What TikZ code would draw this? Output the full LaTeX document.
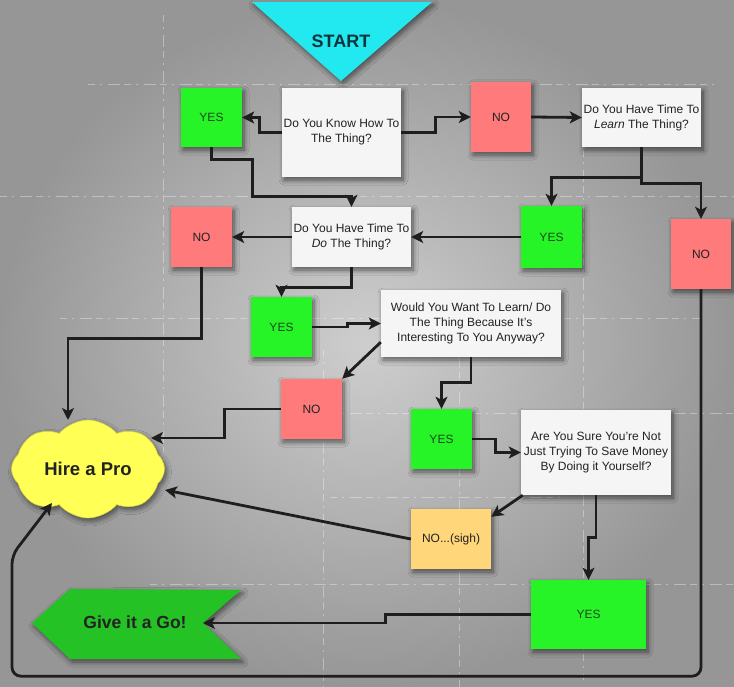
\documentclass[tikz,border=0pt]{standalone}
\usepackage{fontspec}
\setmainfont{Liberation Sans}
\usetikzlibrary{arrows.meta,shapes.symbols,shadows.blur,calc}
\definecolor{bgin}{RGB}{206,206,206}
\definecolor{bgout}{RGB}{150,150,150}
\definecolor{qwhite}{RGB}{245,245,245}
\definecolor{yesgreen}{RGB}{38,244,38}
\definecolor{yestxt}{RGB}{30,72,30}
\definecolor{nored}{RGB}{255,122,122}
\definecolor{sighcol}{RGB}{255,214,122}
\definecolor{cloudcol}{RGB}{255,255,85}
\definecolor{cloudedge}{RGB}{215,215,60}
\definecolor{gocol}{RGB}{36,194,36}
\definecolor{startcol}{RGB}{34,232,240}
\definecolor{starttxt}{RGB}{12,52,58}
\definecolor{txt}{RGB}{34,34,34}
\definecolor{linecol}{RGB}{30,30,30}
\begin{document}
\begin{tikzpicture}[x=1pt,y=-1pt,
  shad/.style={blur shadow={shadow xshift=2pt,shadow yshift=-3pt,shadow blur steps=8,shadow blur radius=5pt,shadow opacity=55}},
  base/.style={rectangle,inner sep=0pt,align=center,text=txt,font=\fontsize{12}{14.8}\selectfont,shad},
  qbox/.style={base,fill=qwhite},
  yesbox/.style={base,fill=yesgreen,text=yestxt},
  nobox/.style={base,fill=nored},
  conn/.style={draw=linecol,line width=2.8pt,-{Stealth[length=12pt,width=12pt,inset=3pt]}},
  gridl/.style={draw=white,opacity=0.35,line width=0.9pt,dash pattern=on 7pt off 5pt on 2pt off 6pt on 12pt off 4pt}
]
\useasboundingbox (0,0) rectangle (734,687);
\shade[inner color=bgin,outer color=bgout] (0,0) rectangle (734,687);
% faint background grid
\draw[gridl] (88,84) -- (720,84);
\draw[gridl] (0,196) -- (734,196);
\draw[gridl] (60,318) -- (700,318);
\draw[gridl] (330,413) -- (734,413);
\draw[gridl] (330,497) -- (560,497);
\draw[gridl] (150,584) -- (734,584);
\draw[gridl] (163,15) -- (163,460);
\draw[gridl] (323,350) -- (323,687);
\draw[gridl] (459,300) -- (459,687);
\draw[gridl] (583,150) -- (583,680);

% start
\path[fill=startcol,shad] (252,2) -- (432,2) -- (341,81) -- cycle;
\node[text=starttxt,font=\fontsize{18}{20}\selectfont\bfseries] (start) at (341,41) {START};

% boxes
\node[qbox,minimum width=119pt,minimum height=89pt] (b1) at (341.5,132.5) {Do You Know How To\\The Thing?};
\node[yesbox,minimum width=61pt,minimum height=59pt] (y1) at (211.5,117.5) {YES};
\node[nobox,minimum width=60pt,minimum height=70pt] (n1) at (501,117) {NO};
\node[qbox,minimum width=119pt,minimum height=59pt] (b2) at (641.5,117.5) {Do You Have Time To\\\textit{Learn} The Thing?};
\node[yesbox,minimum width=61pt,minimum height=62pt] (y2) at (551.5,237) {YES};
\node[nobox,minimum width=60pt,minimum height=70pt] (n2) at (701,254) {NO};
\node[qbox,minimum width=119pt,minimum height=60pt] (b3) at (351.5,237) {Do You Have Time To\\\textit{Do} The Thing?};
\node[nobox,minimum width=61pt,minimum height=60pt] (n3) at (201.5,237) {NO};
\node[yesbox,minimum width=61pt,minimum height=60pt] (y3) at (281.5,327) {YES};
\node[qbox,minimum width=180pt,minimum height=67pt] (b4) at (471,323.5) {Would You Want To Learn/ Do\\The Thing Because It’s\\Interesting To You Anyway?};
\node[nobox,minimum width=61pt,minimum height=60pt] (n4) at (311.5,409) {NO};
\node[yesbox,minimum width=61pt,minimum height=60pt] (y4) at (441.5,439) {YES};
\node[qbox,minimum width=150pt,minimum height=85pt] (b5) at (596,452.5) {Are You Sure You’re Not\\Just Trying To Save Money\\By Doing it Yourself?};
\node[base,fill=sighcol,minimum width=80pt,minimum height=60pt] (sigh) at (451,539) {NO...(sigh)};
\node[yesbox,minimum width=115pt,minimum height=69pt] (y5) at (588.5,614.5) {YES};

% hire a pro cloud
\node[cloud,cloud puffs=8,cloud puff arc=100,aspect=1.55,fill=cloudcol,draw=cloudedge,line width=0.6pt,inner sep=0pt,minimum width=153pt,minimum height=98pt,shad,text=txt,font=\fontsize{18.5}{20}\selectfont\bfseries] (hire) at (88,469) {Hire a Pro};
\coordinate (hA) at (68,420);
\coordinate (hB) at (151,438);
\coordinate (hC) at (165,490);
\coordinate (hD) at (52,503);

% give it a go
\path[fill=gocol,shad] (70,589) -- (241,590) -- (203,623) -- (241,659) -- (70,659) -- (32,623) -- cycle;
\node[text=txt,font=\fontsize{17.5}{20}\selectfont\bfseries] (go) at (135,622) {Give it a Go!};
\coordinate (gonotch) at (203,623);

% connectors
\draw[conn] (b1.west) -- ++(-22,0) |- (y1.east);
\draw[conn] (b1.east) -- ++(34,0) |- (n1.west);
\draw[conn] (n1.east) -- (b2.west);
\draw[conn] (y1.south) -- ++(0,12) -- ++(41,0) |- ([yshift=10pt]b3.north) -- (b3.north);
\draw[conn] (b2.south) -- ++(0,30) -| (y2.north);
\draw[conn] (b2.south) -- ++(0,36) -| (n2.north);
\draw[conn] (y2.west) -- (b3.east);
\draw[conn] (b3.west) -- (n3.east);
\draw[conn] (b3.south) -- ++(0,20) -| (y3.north);
\draw[conn] (n3.south) -- ++(0,71) -| (hA);
\draw[conn] (y3.east) -- ++(35,0) |- (b4.west);
\draw[conn] ([yshift=15pt]b4.south west) -- (n4.north east);
\draw[conn] (n4.west) -- ++(-56,0) |- (hB);
\draw[conn] (b4.south) -- ++(0,25) -| (y4.north);
\draw[conn] (y4.east) -- ++(23,0) |- (b5.west);
\draw[conn] ([xshift=2pt]b5.south west) -- ([yshift=-8pt]sigh.north east);
\draw[conn] (sigh.west) -- (hC);
\draw[conn] (b5.south) -- ++(0,42) -| (y5.north);
\draw[conn] (y5.west) -- ++(-145,0) |- (gonotch);
\draw[conn,rounded corners=9pt] (n2.south) -- ++(0,387) -- ++(-689,0) -- ++(0,-121) -- (hD);
\end{tikzpicture}
\end{document}
